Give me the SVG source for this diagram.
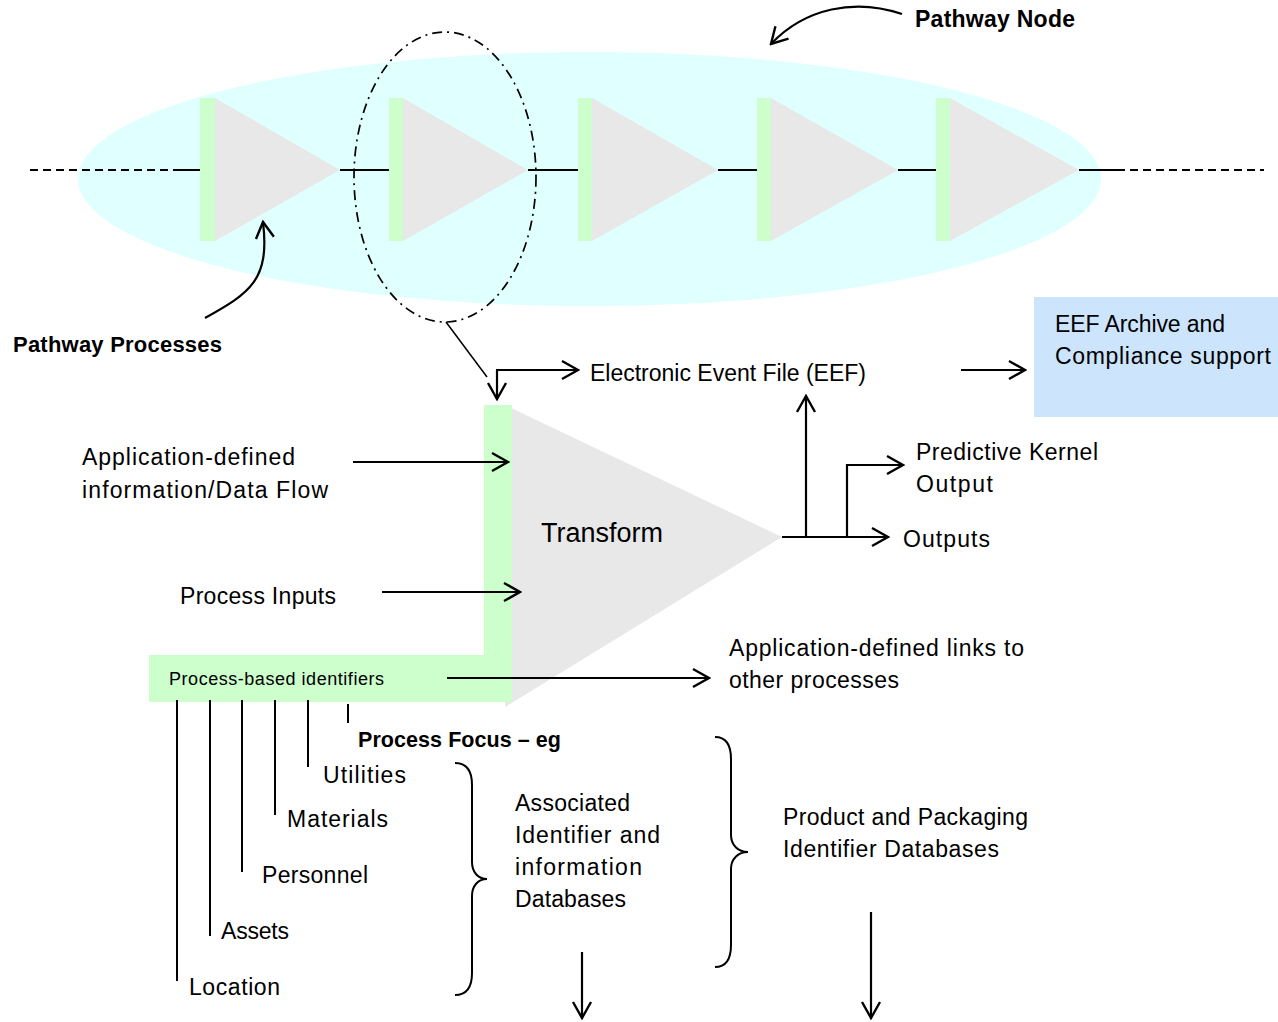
<svg xmlns="http://www.w3.org/2000/svg" width="1278" height="1022" viewBox="0 0 1278 1022">
  <style>
    text { font-family: "Liberation Sans", Arial, sans-serif; font-size: 23px; fill: #000; }
    .b { font-weight: bold; font-size: 22px; }
    .sm { font-size: 18px; }
    .big { font-size: 27px; }
    .bar { fill: #ccffcc; }
    .tri { fill: #e8e8e8; }
    .ln { fill: none; stroke: #000; stroke-width: 2; }
    .thin { fill: none; stroke: #000; stroke-width: 1.5; }
    .arw { fill: none; stroke: #000; stroke-width: 2.2; marker-end: url(#head); }
  </style>
  <defs>
    <marker id="head" viewBox="0 0 20 22" refX="18" refY="11" markerWidth="20" markerHeight="22" markerUnits="userSpaceOnUse" orient="auto">
      <path d="M2,2 L18,11 L2,20" fill="none" stroke="#000" stroke-width="2.4"/>
    </marker>
  </defs>

  <rect width="1278" height="1022" fill="#ffffff"/>

  <!-- pathway node background -->
  <g id="pathway-node">
    <ellipse cx="589.5" cy="179" rx="511.5" ry="127" fill="#e0ffff"/>
  </g>

  <!-- chain of pathway processes -->
  <g id="pathway-chain">
    <line x1="30" y1="170" x2="176" y2="170" stroke="#000" stroke-width="1.8" stroke-dasharray="8 5"/>
    <line x1="1117" y1="170" x2="1264" y2="170" stroke="#000" stroke-width="1.8" stroke-dasharray="8 5"/>
    <path class="ln" d="M176,170 H200 M340,170 H389 M528,170 H578 M718,170 H757 M898,170 H936 M1079,170 H1117"/>
  </g>
  <g id="process-1">
    <polygon class="tri" points="215,98 340,170 215,241"/>
    <rect class="bar" x="200" y="98" width="15" height="143"/>
  </g>
  <g id="process-2">
    <polygon class="tri" points="403,98 528,170 403,241"/>
    <rect class="bar" x="389" y="98" width="14" height="143"/>
  </g>
  <g id="process-3">
    <polygon class="tri" points="592,98 718,170 592,241"/>
    <rect class="bar" x="578" y="98" width="14" height="143"/>
  </g>
  <g id="process-4">
    <polygon class="tri" points="771,98 898,170 771,241"/>
    <rect class="bar" x="757" y="98" width="14" height="143"/>
  </g>
  <g id="process-5">
    <polygon class="tri" points="950,98 1079,170 950,241"/>
    <rect class="bar" x="936" y="98" width="14" height="143"/>
  </g>

  <!-- focus ring around one process -->
  <g id="focus-ring">
    <ellipse cx="445" cy="177" rx="91" ry="145" fill="none" stroke="#000" stroke-width="1.7" stroke-dasharray="10 5 2 5"/>
  </g>

  <!-- callout labels -->
  <g id="label-pathway-node">
    <text class="b" x="915" y="27" textLength="160" style="font-size:23px">Pathway Node</text>
  </g>
  <g id="label-pathway-processes">
    <text class="b" x="13" y="352" textLength="209">Pathway Processes</text>
  </g>

  <!-- expanded process -->
  <g id="transform">
    <polygon class="tri" points="505,405 782,537 505,707"/>
    <rect class="bar" x="484" y="405" width="28" height="297"/>
    <rect class="bar" x="149" y="655" width="363" height="47"/>
    <text class="big" x="541" y="542" textLength="122">Transform</text>
    <text class="sm" x="169" y="685" textLength="215">Process-based identifiers</text>
  </g>

  <g id="eef-archive">
    <rect x="1034" y="297" width="244" height="120" fill="#cce5fc"/>
    <text x="1055" y="332" textLength="170">EEF Archive and</text>
    <text x="1055" y="364" textLength="216">Compliance support</text>
  </g>

  <g id="eef">
    <text x="590" y="381" textLength="276">Electronic Event File (EEF)</text>
  </g>
  <g id="app-info">
    <text x="82" y="465" textLength="213">Application-defined</text>
    <text x="82" y="498" textLength="246">information/Data Flow</text>
  </g>
  <g id="process-inputs">
    <text x="180" y="604" textLength="156">Process Inputs</text>
  </g>
  <g id="predictive-kernel">
    <text x="916" y="460" textLength="182">Predictive Kernel</text>
    <text x="916" y="492" textLength="77">Output</text>
  </g>
  <g id="outputs">
    <text x="903" y="547" textLength="87">Outputs</text>
  </g>
  <g id="app-links">
    <text x="729" y="656" textLength="295">Application-defined links to</text>
    <text x="729" y="688" textLength="170">other processes</text>
  </g>

  <g id="process-focus">
    <text class="b" x="358" y="747" textLength="203" style="font-size:21.5px">Process Focus – eg</text>
    <text x="323" y="783" textLength="83">Utilities</text>
    <text x="287" y="827" textLength="101">Materials</text>
    <text x="262" y="883" textLength="106">Personnel</text>
    <text x="221" y="939" textLength="68">Assets</text>
    <text x="189" y="995" textLength="91">Location</text>
  </g>

  <g id="associated-db">
    <path class="ln" d="M455,763 C468,763 472,772 472,785 L472,862 C472,872 478,879 487,879 C478,879 472,886 472,896 L472,973 C472,986 468,995 455,995"/>
    <text x="515" y="811" textLength="115">Associated</text>
    <text x="515" y="843" textLength="145">Identifier and</text>
    <text x="515" y="875" textLength="127">information</text>
    <text x="515" y="907" textLength="111">Databases</text>
  </g>

  <g id="product-db">
    <path class="ln" d="M715,737 C727,737 731,746 731,759 L731,835 C731,845 738,852 748,852 C738,852 731,859 731,869 L731,945 C731,958 727,967 715,967"/>
    <text x="783" y="825" textLength="245">Product and Packaging</text>
    <text x="783" y="857" textLength="216">Identifier Databases</text>
  </g>

  <!-- connectors -->
  <g id="connectors">
    <path class="arw" d="M902,14 C855,-2 805,8 771,44"/>
    <path class="arw" d="M205,318 C250,293 270,280 263,222"/>
    <line class="thin" x1="446" y1="322" x2="487" y2="377"/>
    <path class="arw" d="M497,370 V399"/>
    <path class="arw" d="M496,370 H578"/>
    <path class="arw" d="M353,462 H508"/>
    <path class="arw" d="M382,592 H520"/>
    <path class="arw" d="M447,678 H709"/>
    <path class="arw" d="M782,537 H888"/>
    <path class="arw" d="M806,537 V396"/>
    <path class="arw" d="M847,537 V465 H903"/>
    <path class="arw" d="M961,370 H1025"/>
    <path class="arw" d="M582,952 V1018"/>
    <path class="arw" d="M871,912 V1018"/>
    <path class="ln" d="M177,700 V981 M210,700 V936 M242,700 V872 M275,700 V815 M308,700 V767 M348,704 V723"/>
  </g>
</svg>
